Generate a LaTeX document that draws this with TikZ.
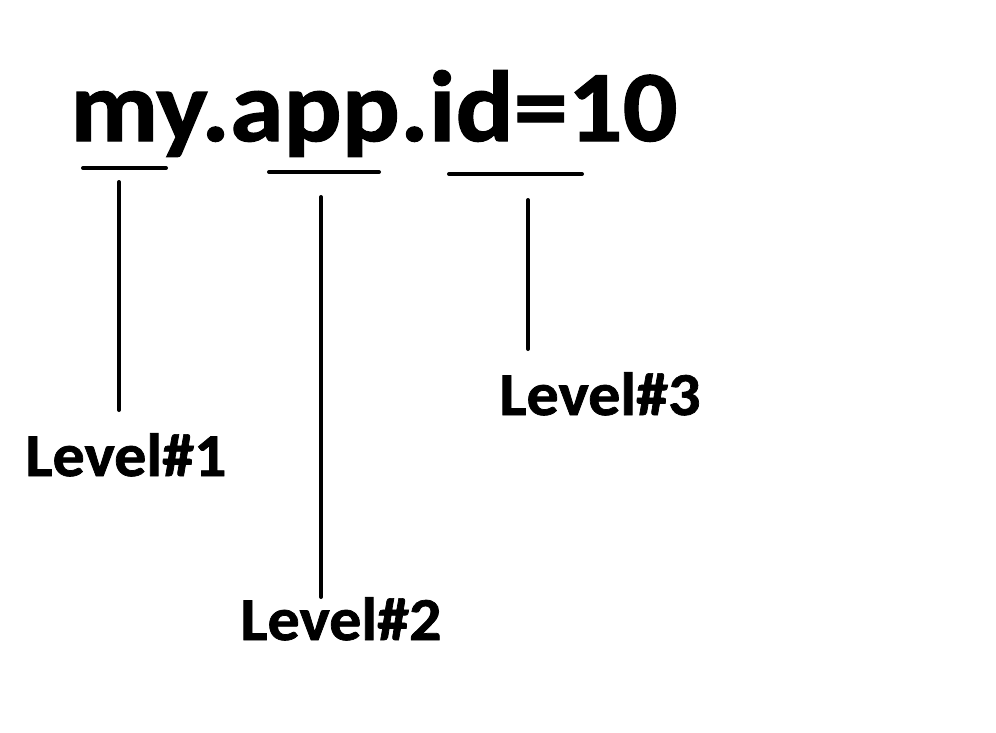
\documentclass[tikz,border=0pt]{standalone}
\usepackage{fontspec}
\setmainfont{Carlito}[FakeStretch=1.05, BoldFeatures={FakeBold=1.2}]
\newfontfamily\titlefont{Carlito}[FakeStretch=1.073, BoldFeatures={FakeBold=1.2}]
\begin{document}
\begin{tikzpicture}[x=1pt,y=-1pt,
  title/.style={font=\titlefont\fontsize{101}{110}\selectfont\bfseries, anchor=base west, inner sep=0pt},
  lvl/.style={font=\fontsize{61}{70}\selectfont\bfseries, anchor=base, inner sep=0pt},
  bar/.style={line width=4pt, line cap=round}]
\useasboundingbox[fill=white] (0,0) rectangle (996,732);
\node[title] (t) at (70,141) {my.app.id=10};
\coordinate (u1a) at (83,168);  \coordinate (u1b) at (166,168);
\coordinate (u2a) at (269,172); \coordinate (u2b) at (379,172);
\coordinate (u3a) at (449,174); \coordinate (u3b) at (582,174);
\draw[bar] (u1a) -- (u1b);
\draw[bar] (u2a) -- (u2b);
\draw[bar] (u3a) -- (u3b);
\node[lvl] (l1) at (126,476) {Level\#1};
\node[lvl] (l2) at (341,640) {Level\#2};
\node[lvl] (l3) at (600,415) {Level\#3};
\coordinate (v1a) at (119,182); \coordinate (v1b) at (119,410);
\coordinate (v2a) at (321,197); \coordinate (v2b) at (321,597);
\coordinate (v3a) at (528,200); \coordinate (v3b) at (528,349);
\draw[bar] (v1a) -- (v1b);
\draw[bar] (v2a) -- (v2b);
\draw[bar] (v3a) -- (v3b);
\end{tikzpicture}
\end{document}
